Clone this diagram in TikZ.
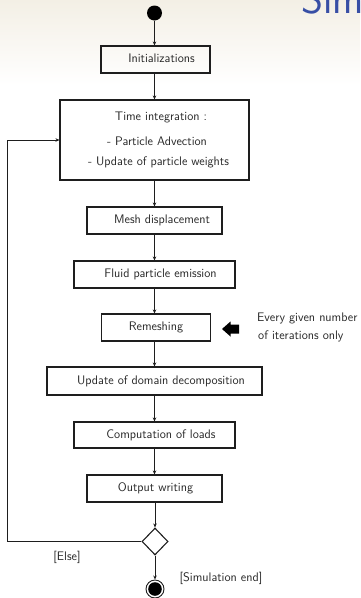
\documentclass[tikz,border=0pt]{standalone}
\usetikzlibrary{arrows.meta,shapes.geometric}
\definecolor{bgtop}{RGB}{243,239,229}
\definecolor{simblue}{RGB}{55,78,165}
\definecolor{ink}{RGB}{30,30,30}
\definecolor{txt}{RGB}{40,40,40}
\begin{document}
\begin{tikzpicture}[x=1pt,y=-1pt,
  font=\sffamily\fontsize{12.4}{14}\selectfont,
  box/.style={draw=ink, line width=1.1pt, rectangle, inner sep=0pt, text=txt,
    text height=8.5pt, text depth=2.5pt},
  lbl/.style={inner sep=0pt, text=txt, text height=8.5pt, text depth=2.5pt},
  flow/.style={draw=ink, line width=0.8pt, -{Stealth[length=4pt,width=3.5pt]}}]
\useasboundingbox (0,0) rectangle (360,598);
\clip (0,0) rectangle (360,598);
\fill[white] (0,0) rectangle (360,598);
\shade[top color=bgtop, bottom color=white] (0,0) rectangle (360,85);
\node[anchor=base west, inner sep=0pt, text=simblue,
  font=\sffamily\fontsize{42}{46}\selectfont] (title) at (301,13) {Simulation};

\node[circle, fill=black, minimum size=15pt, inner sep=0pt] (start) at (154.5,13) {};
\node[box, minimum width=109pt, minimum height=27pt] (init) at (155.5,59.5) {\hspace*{12pt}Initializations};
\node[box, minimum width=189pt, minimum height=80pt] (time) at (154.5,140) {};
\node[lbl] (t1) at (161,117) {Time integration :};
\node[lbl] (t2) at (157,142) {- Particle Advection};
\node[lbl] (t3) at (158.5,162) {- Update of particle weights};
\node[box, minimum width=135pt, minimum height=27pt] (mesh) at (154.5,220.5) {\hspace*{15pt}Mesh displacement};
\node[box, minimum width=161pt, minimum height=27pt] (fluid) at (154.5,274.5) {\hspace*{12pt}Fluid particle emission};
\node[box, minimum width=109pt, minimum height=27pt] (remesh) at (156,327.5) {Remeshing};
\node[box, minimum width=215pt, minimum height=28pt] (update) at (154.5,381) {\hspace*{13pt}Update of domain decomposition};
\node[box, minimum width=161pt, minimum height=26pt] (loads) at (154.5,435) {\hspace*{13pt}Computation of loads};
\node[box, minimum width=135pt, minimum height=27pt] (output) at (154.5,488.5) {\hspace*{2pt}Output writing};
\node[diamond, draw=ink, line width=1.1pt, fill=white, minimum width=26pt, minimum height=27pt, inner sep=0pt] (dec) at (155,541.5) {};
\node[circle, draw=ink, line width=0.9pt, minimum size=18pt, inner sep=0pt] (stop) at (155,589) {};
\fill[black] (stop.center) circle (6.8pt);

\fill[black] (222,329) -- (230.5,321.5) -- (230.5,324.5) -- (239,324.5) -- (239,333.5) -- (230.5,333.5) -- (230.5,336.5) -- cycle;
\node[lbl, anchor=west] (note1) at (257,318) {Every given number};
\node[lbl, anchor=west] (note2) at (258,336) {of iterations only};
\node[lbl] (else) at (67,557) {[Else]};
\node[lbl] (simend) at (221,578) {[Simulation end]};

\draw[flow] (start) -- (start |- init.north);
\draw[flow] (init.south -| start) -- (start |- time.north);
\draw[flow] (time.south -| start) -- (start |- mesh.north);
\draw[flow] (mesh.south -| start) -- (start |- fluid.north);
\draw[flow] (fluid.south -| start) -- (start |- remesh.north);
\draw[flow] (remesh.south -| start) -- (start |- update.north);
\draw[flow] (update.south -| start) -- (start |- loads.north);
\draw[flow] (loads.south -| start) -- (start |- output.north);
\draw[flow] (output.south -| dec) -- (dec.north);
\draw[flow] (dec.south) -- (stop.north);
\coordinate (loopc) at (7,541.5);
\draw[flow] (dec.west) -- (loopc) |- (time.west);
\end{tikzpicture}
\end{document}
